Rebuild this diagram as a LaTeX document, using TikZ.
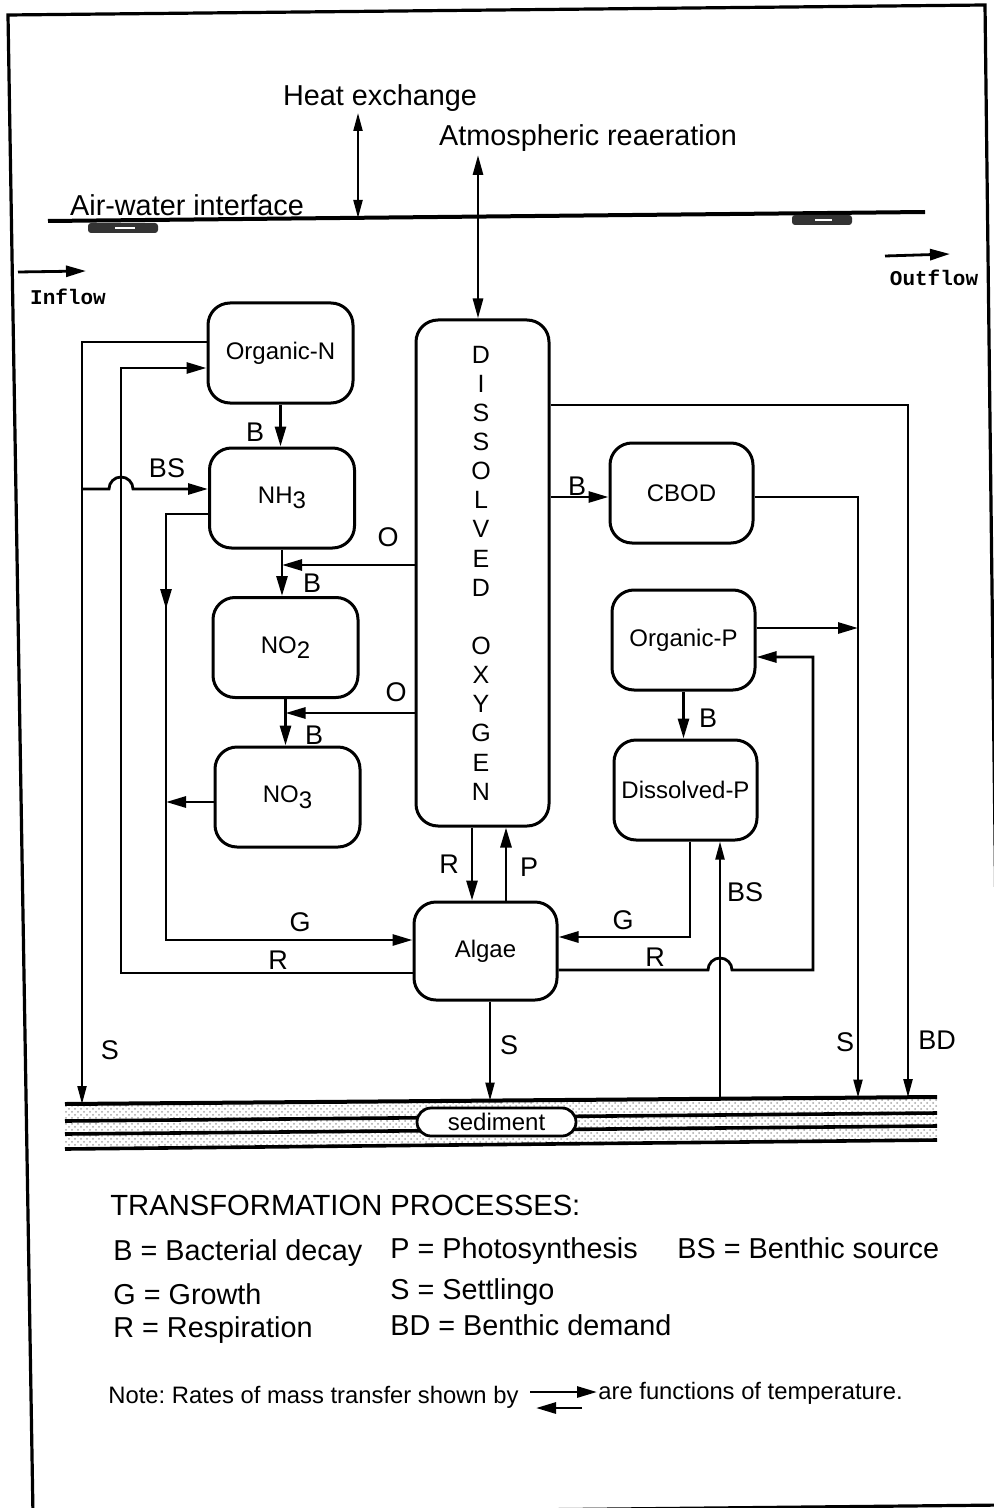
\documentclass[tikz,border=0pt]{standalone}
\usepackage{fontspec}
\setmainfont{Liberation Sans}
\newfontfamily\flowfont{Liberation Mono}
\usetikzlibrary{arrows.meta,calc,patterns}
\begin{document}
\frenchspacing
\begin{tikzpicture}[x=0.5pt,y=-0.5pt,
 box/.style={draw,line width=1.5pt,rounded corners=11pt,minimum width=72.5pt,minimum height=50pt,inner sep=0pt,font=\fontsize{12}{14}\selectfont},
 con/.style={line width=1.4pt},
 thinl/.style={line width=1.05pt},
 arr/.style={con,-{Triangle[length=10pt,width=5.5pt]}},
 tarr/.style={thinl,-{Triangle[length=9pt,width=4.5pt]}},
 lbl/.style={inner sep=0pt,font=\fontsize{13.5}{15}\selectfont},
 big/.style={inner sep=0pt,font=\fontsize{14.4}{16}\selectfont},
 leg/.style={inner sep=0pt,anchor=west,font=\fontsize{14.4}{16}\selectfont},
 note/.style={inner sep=0pt,anchor=west,font=\fontsize{11.9}{14}\selectfont\frenchspacing},
 flow/.style={inner sep=0pt,font=\flowfont\bfseries\fontsize{10.5}{12}\selectfont},
]
\useasboundingbox (0,0) rectangle (994,1508);
\fill[white] (0,0) rectangle (994,1508);
% frame
\draw[line width=1.6pt] (33,1515) -- (8,15) -- (985,5) -- (1003,1505) -- cycle;

% top texts
\node[big] (heat) at (380,98) {Heat exchange};
\node[big] (atm) at (588,138) {Atmospheric reaeration};
\node[big] (awi) at (187,205) {Air-water interface};

% interface
\coordinate (awL) at (48,221);
\coordinate (awR) at (925,212);
\draw[line width=2pt] (awL) -- (awR);
\fill[black!80,rounded corners=1.5pt] (88,223) rectangle (158,233);
\fill[white] (115,227) rectangle (135,229);
\fill[black!80,rounded corners=1.5pt] (792,215) rectangle (852,225);
\fill[white] (815,219) rectangle (832,221);

% inflow / outflow
\coordinate (inA) at (18,272);
\coordinate (inB) at (86,271);
\draw[arr] (inA) -- (inB);
\node[flow] (inlbl) at (68,297) {Inflow};
\coordinate (outA) at (885,256);
\coordinate (outB) at (950,254);
\draw[arr] (outA) -- (outB);
\node[flow] (outlbl) at (934,278) {Outflow};

% boxes
\node[box] (orgN) at (280.5,353) {Organic-N};
\node[box] (nh3) at (282,498) {NH\raisebox{-0.45ex}{3}};
\node[box] (no2) at (285.5,647.5) {NO\raisebox{-0.45ex}{2}};
\node[box] (no3) at (287.5,797) {NO\raisebox{-0.45ex}{3}};
\node[box,minimum width=66.5pt,minimum height=253pt] (do) at (482.5,573) {};
\node[inner sep=0pt,align=center,font=\fontsize{12.5}{14.57}\selectfont] (dotxt) at (481,573) {D\\I\\S\\S\\O\\L\\V\\E\\D\\\mbox{}\\O\\X\\Y\\G\\E\\N};
\node[box,minimum width=71.5pt] (cbod) at (681.5,493) {CBOD};
\node[box,minimum width=71.5pt] (orgP) at (683.5,640) {Organic-P};
\node[box,minimum width=71.5pt] (disP) at (685.5,790) {Dissolved-P};
\node[box,minimum width=71.5pt,minimum height=49pt] (algae) at (485.5,951) {Algae};

% heat and reaeration arrows
\coordinate (hT) at (358,113);
\coordinate (hB) at (358,218);
\draw[thinl,{Triangle[length=9pt,width=4.5pt]}-{Triangle[length=9pt,width=4.5pt]}] (hT) -- (hB);
\coordinate (aT) at (478,155);
\draw[con,{Triangle[length=10pt,width=5pt]}-{Triangle[length=10pt,width=5pt]}] (aT) -- ($(do.north)+(-4.5,0)$);

% sediment
\fill[pattern=crosshatch dots,pattern color=gray!70] (65,1104) -- (937,1097) -- (937,1140) -- (65,1149) -- cycle;
\draw[line width=2pt] (65,1104) -- (937,1097);
\draw[line width=1.8pt] (65,1121) -- (937,1113);
\draw[line width=1.8pt] (65,1134) -- (937,1126);
\draw[line width=1.8pt] (65,1149) -- (937,1140);
\node[draw,line width=1.4pt,fill=white,rounded corners=7pt,minimum width=79.5pt,minimum height=14pt,inner sep=0pt,font=\fontsize{12}{14}\selectfont] (sed) at (496.5,1122) {sediment};
\coordinate (sSL) at (82,1104);
\coordinate (sA) at (490,1100.6);
\coordinate (sBS) at (720,1098.7);
\coordinate (sSR) at (858,1097.6);
\coordinate (sBD) at (908,1097.2);

% ---- left connectors
\draw[tarr] ($(orgN.west)+(0,-11)$) -| (sSL);
\coordinate (bsL) at (82,489);
\draw[arr] (bsL) -- (109,489) arc[start angle=180,end angle=0,radius=6pt] -- ($(nh3.west)+(0,-9)$);
\draw[arr] ($(algae.west)+(0,22)$) -| (121,368) -- ($(orgN.west)+(0,15)$);
\coordinate (gmid) at (166,609);
\draw[arr] ($(nh3.west)+(0,16)$) -| (166,940) -- ($(algae.west)+(0,-11)$);
\draw[arr] ($(gmid)+(0,-24)$) -- (gmid);
\coordinate (no3e) at ($(no3.west)+(0,5)$);
\draw[arr] (no3e) -- (no3e -| gmid);
\draw[arr] (orgN.south) -- (orgN.south |- nh3.north);
\draw[arr] (nh3.south) -- (nh3.south |- no2.north);
\draw[arr] (no2.south) -- (no2.south |- no3.north);
\coordinate (o1s) at ($(do.west)+(0,-8)$);
\draw[arr] (o1s) -- (o1s -| nh3.south);
\coordinate (o2s) at ($(do.west)+(0,140)$);
\draw[arr] (o2s) -- (o2s -| no2.south);

% ---- centre connectors
\coordinate (rDO) at ($(do.south)+(-10.5,0)$);
\draw[arr] (rDO) -- (rDO |- algae.north);
\coordinate (pA) at ($(algae.north)+(20.5,0)$);
\draw[arr] (pA) -- (pA |- do.south);
\draw[tarr] (algae.south -| sA) -- (sA);

% ---- right connectors
\coordinate (bdS) at ($(do.east)+(0,-168)$);
\draw[tarr] (bdS) -| (sBD);
\coordinate (cb) at ($(do.east)+(0,-76)$);
\draw[arr] (cb) -- (cb -| cbod.west);
\draw[tarr] ($(cbod.east)+(0,4)$) -| (sSR);
\coordinate (opE) at ($(orgP.east)+(0,-12)$);
\draw[arr] (opE) -- (opE -| sSR);
\coordinate (rr) at ($(algae.east)+(0,19)$);
\draw[arr] (rr) -- ($(rr -| sBS)+(-12,0)$) arc[start angle=180,end angle=0,radius=6pt] -- (813,970) |- ($(orgP.east)+(0,17)$);
\draw[arr] (orgP.south) -- (orgP.south |- disP.north);
\coordinate (dpS) at ($(disP.south)+(4.5,0)$);
\draw[arr] (dpS) |- ($(algae.east)+(0,-14)$);
\draw[tarr] (sBS) -- (sBS |- disP.south);

% ---- labels
\node[lbl] (lB1) at (255,432) {B};
\node[lbl] (lBS1) at (167,468) {BS};
\node[lbl] (lO1) at (388,537) {O};
\node[lbl] (lB2) at (312,583) {B};
\node[lbl] (lO2) at (396,692) {O};
\node[lbl] (lB3) at (314,735) {B};
\node[lbl] (lB4) at (577,486) {B};
\node[lbl] (lB5) at (708,718) {B};
\node[lbl] (lR1) at (449,864) {R};
\node[lbl] (lP) at (529,867) {P};
\node[lbl] (lG1) at (300,922) {G};
\node[lbl] (lR2) at (278,960) {R};
\node[lbl] (lG2) at (623,920) {G};
\node[lbl] (lR3) at (655,957) {R};
\node[lbl] (lBS2) at (745,892) {BS};
\node[lbl] (lS1) at (110,1050) {S};
\node[lbl] (lS2) at (509,1045) {S};
\node[lbl] (lS3) at (845,1042) {S};
\node[lbl] (lBD) at (937,1040) {BD};

% ---- legend
\node[leg,font=\fontsize{14.6}{16}\selectfont] (legT) at (110,1205) {TRANSFORMATION PROCESSES:};
\node[leg] (lg1) at (113,1253) {B = Bacterial decay};
\node[leg] (lg2) at (390,1251) {P = Photosynthesis};
\node[leg] (lg3) at (677,1248) {BS = Benthic source};
\node[leg] (lg4) at (113,1294) {G = Growth};
\node[leg] (lg5) at (390,1292) {S = Settlingo};
\node[leg] (lg6) at (113,1330) {R = Respiration};
\node[leg] (lg7) at (390,1325) {BD = Benthic demand};
\node[note] (note1) at (108,1397) {Note: Rates of mass transfer shown by};
\coordinate (nA1) at (530,1392);
\coordinate (nA2) at (597,1392);
\draw[arr] (nA1) -- (nA2);
\coordinate (nB1) at (582,1408);
\coordinate (nB2) at (536,1408);
\draw[arr] (nB1) -- (nB2);
\node[note] (note2) at (598,1393) {are functions of temperature.};
\end{tikzpicture}
\end{document}
